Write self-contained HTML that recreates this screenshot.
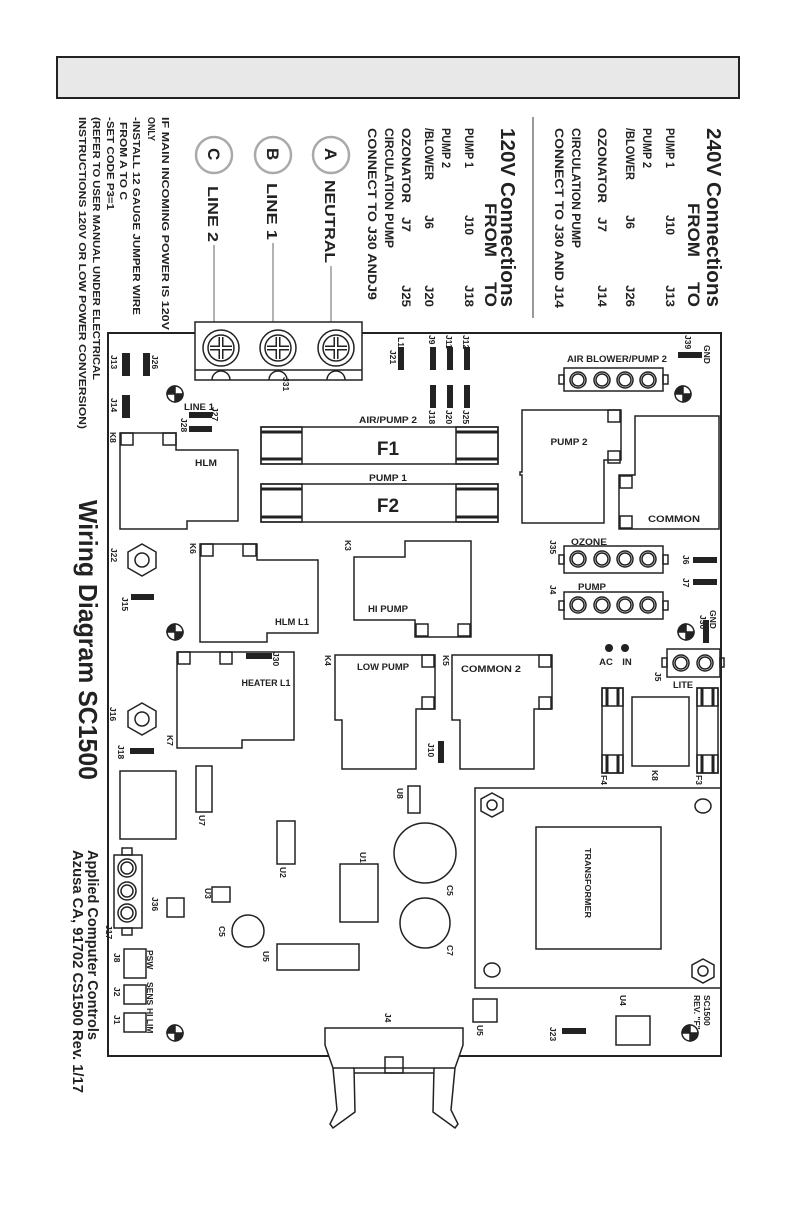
<!DOCTYPE html>
<html><head><meta charset="utf-8"><style>
html,body{margin:0;padding:0;background:#fff;}
svg{display:block;}
text{font-family:"Liberation Sans",sans-serif;font-weight:bold;fill:#222;}
</style></head><body>
<svg width="792" height="1224" viewBox="0 0 792 1224" xmlns="http://www.w3.org/2000/svg">
<rect width="792" height="1224" fill="#fff"/>
<rect x="57" y="57" width="682" height="41" fill="#e8e8e8" stroke="#222" stroke-width="2"/>

<g font-size="11.5">
<text transform="translate(707,128) rotate(90)" font-size="20" textLength="179" lengthAdjust="spacingAndGlyphs">240V Connections</text>
<text transform="translate(688,203) rotate(90)" font-size="17" textLength="54" lengthAdjust="spacingAndGlyphs">FROM</text>
<text transform="translate(688,282) rotate(90)" font-size="17" textLength="25" lengthAdjust="spacingAndGlyphs">TO</text>
<text transform="translate(666,128) rotate(90)" textLength="40" lengthAdjust="spacingAndGlyphs">PUMP 1</text>
<text transform="translate(666,215) rotate(90)" textLength="20" lengthAdjust="spacingAndGlyphs">J10</text>
<text transform="translate(666,285) rotate(90)" textLength="22" lengthAdjust="spacingAndGlyphs">J13</text>
<text transform="translate(643,128) rotate(90)" textLength="40" lengthAdjust="spacingAndGlyphs">PUMP 2</text>
<text transform="translate(626,128) rotate(90)" textLength="52" lengthAdjust="spacingAndGlyphs">/BLOWER</text>
<text transform="translate(626,215) rotate(90)" textLength="14" lengthAdjust="spacingAndGlyphs">J6</text>
<text transform="translate(626,285) rotate(90)" textLength="22" lengthAdjust="spacingAndGlyphs">J26</text>
<text transform="translate(598,128) rotate(90)" textLength="75" lengthAdjust="spacingAndGlyphs">OZONATOR</text>
<text transform="translate(598,217) rotate(90)" textLength="15" lengthAdjust="spacingAndGlyphs">J7</text>
<text transform="translate(598,285) rotate(90)" textLength="22" lengthAdjust="spacingAndGlyphs">J14</text>
<text transform="translate(572,128) rotate(90)" textLength="120" lengthAdjust="spacingAndGlyphs">CIRCULATION PUMP</text>
<text transform="translate(555,128) rotate(90)" textLength="180" lengthAdjust="spacingAndGlyphs">CONNECT TO J30 AND J14</text>
</g>
<line x1="533" y1="117" x2="533" y2="318" stroke="#999" stroke-width="2"/>
<g font-size="11.5">
<text transform="translate(501,128) rotate(90)" font-size="20" textLength="179" lengthAdjust="spacingAndGlyphs">120V Connections</text>
<text transform="translate(485,203) rotate(90)" font-size="17" textLength="54" lengthAdjust="spacingAndGlyphs">FROM</text>
<text transform="translate(485,282) rotate(90)" font-size="17" textLength="25" lengthAdjust="spacingAndGlyphs">TO</text>
<text transform="translate(465,128) rotate(90)" textLength="40" lengthAdjust="spacingAndGlyphs">PUMP 1</text>
<text transform="translate(465,215) rotate(90)" textLength="20" lengthAdjust="spacingAndGlyphs">J10</text>
<text transform="translate(465,285) rotate(90)" textLength="22" lengthAdjust="spacingAndGlyphs">J18</text>
<text transform="translate(442,128) rotate(90)" textLength="40" lengthAdjust="spacingAndGlyphs">PUMP 2</text>
<text transform="translate(425,128) rotate(90)" textLength="52" lengthAdjust="spacingAndGlyphs">/BLOWER</text>
<text transform="translate(425,215) rotate(90)" textLength="14" lengthAdjust="spacingAndGlyphs">J6</text>
<text transform="translate(425,285) rotate(90)" textLength="22" lengthAdjust="spacingAndGlyphs">J20</text>
<text transform="translate(402,128) rotate(90)" textLength="75" lengthAdjust="spacingAndGlyphs">OZONATOR</text>
<text transform="translate(402,217) rotate(90)" textLength="15" lengthAdjust="spacingAndGlyphs">J7</text>
<text transform="translate(402,285) rotate(90)" textLength="22" lengthAdjust="spacingAndGlyphs">J25</text>
<text transform="translate(385,128) rotate(90)" textLength="120" lengthAdjust="spacingAndGlyphs">CIRCULATION PUMP</text>
<text transform="translate(368,128) rotate(90)" textLength="172" lengthAdjust="spacingAndGlyphs">CONNECT TO J30 ANDJ9</text>
</g>
<g fill="none" stroke="#aaa" stroke-width="2.5">
<circle cx="331" cy="155" r="18"/><circle cx="273" cy="155" r="18"/><circle cx="214" cy="155" r="18"/>
</g>
<g font-size="17">
<text transform="translate(325,148) rotate(90)">A</text>
<text transform="translate(267,148) rotate(90)">B</text>
<text transform="translate(208,148) rotate(90)">C</text>
<text transform="translate(325,180) rotate(90)" font-size="15" textLength="83" lengthAdjust="spacingAndGlyphs">NEUTRAL</text>
<text transform="translate(267,183) rotate(90)" font-size="15" textLength="57" lengthAdjust="spacingAndGlyphs">LINE 1</text>
<text transform="translate(208,186) rotate(90)" font-size="15" textLength="56" lengthAdjust="spacingAndGlyphs">LINE 2</text>
</g>
<g stroke="#999" stroke-width="1.5">
<line x1="331" y1="266" x2="331" y2="323"/><line x1="273" y1="243" x2="273" y2="323"/><line x1="214" y1="245" x2="214" y2="323"/>
</g>
<g font-size="10.5">
<text transform="translate(162,117) rotate(90)" textLength="213" lengthAdjust="spacingAndGlyphs">IF MAIN INCOMING POWER IS 120V</text>
<text transform="translate(148,117) rotate(90)" textLength="24" lengthAdjust="spacingAndGlyphs">ONLY</text>
<text transform="translate(133,117) rotate(90)" textLength="198" lengthAdjust="spacingAndGlyphs">-INSTALL 12 GAUGE JUMPER WIRE</text>
<text transform="translate(120,122) rotate(90)" textLength="78" lengthAdjust="spacingAndGlyphs">FROM A TO C</text>
<text transform="translate(107,117) rotate(90)" textLength="93" lengthAdjust="spacingAndGlyphs">-SET CODE P3=1</text>
<text transform="translate(93,117) rotate(90)" textLength="263" lengthAdjust="spacingAndGlyphs">(REFER TO USER MANUAL UNDER ELECTRICAL</text>
<text transform="translate(79,117) rotate(90)" textLength="312" lengthAdjust="spacingAndGlyphs">INSTRUCTIONS 120V OR LOW POWER CONVERSION)</text>
</g>
<text transform="translate(79,500) rotate(90)" font-size="26" textLength="280" lengthAdjust="spacingAndGlyphs">Wiring Diagram SC1500</text>
<text transform="translate(88,850) rotate(90)" font-size="15" textLength="190" lengthAdjust="spacingAndGlyphs">Applied Computer Controls</text>
<text transform="translate(73,850) rotate(90)" font-size="15" textLength="243" lengthAdjust="spacingAndGlyphs">Azusa  CA, 91702 CS1500 Rev. 1/17</text>

<g fill="none" stroke="#222" stroke-width="1.5">
<rect x="108" y="333" width="613" height="723" stroke-width="2"/>
<rect x="195" y="322" width="167" height="58" fill="#fff"/>
<line x1="195" y1="370" x2="362" y2="370"/>
<circle cx="221" cy="348" r="18"/><circle cx="221" cy="348" r="13"/>
<circle cx="278" cy="348" r="18"/><circle cx="278" cy="348" r="13"/>
<circle cx="336" cy="348" r="18"/><circle cx="336" cy="348" r="13"/>
<path d="M221 337v22M210 348h22M278 337v22M267 348h22M336 337v22M325 348h22" stroke-width="5"/>
<path d="M221 337v22M210 348h22M278 337v22M267 348h22M336 337v22M325 348h22" stroke="#fff" stroke-width="2"/>
<path d="M212 380a9 9 0 0 1 18 0M269 380a9 9 0 0 1 18 0M327 380a9 9 0 0 1 18 0"/>
<rect x="261" y="427" width="237" height="37"/><rect x="261" y="427" width="41" height="37"/><rect x="456" y="427" width="42" height="37"/>
<rect x="261" y="484" width="237" height="38"/><rect x="261" y="484" width="41" height="38"/><rect x="456" y="484" width="42" height="38"/>
<path d="M120 433H176V450H238V521H187V529H120Z"/>
<rect x="121" y="433" width="12" height="12"/><rect x="163" y="433" width="13" height="12"/>
<rect x="564" y="368" width="99" height="23"/><rect x="559" y="375" width="5" height="9"/><rect x="663" y="375" width="5" height="9"/>
<rect x="564" y="546" width="99" height="27"/><rect x="559" y="555" width="5" height="9"/><rect x="663" y="555" width="5" height="9"/>
<rect x="564" y="592" width="99" height="27"/><rect x="559" y="601" width="5" height="9"/><rect x="663" y="601" width="5" height="9"/>
<g>
<circle cx="578" cy="380" r="8"/><circle cx="602" cy="380" r="8"/><circle cx="625" cy="380" r="8"/><circle cx="648" cy="380" r="8"/>
<circle cx="578" cy="559" r="8"/><circle cx="602" cy="559" r="8"/><circle cx="625" cy="559" r="8"/><circle cx="648" cy="559" r="8"/>
<circle cx="578" cy="605" r="8"/><circle cx="602" cy="605" r="8"/><circle cx="625" cy="605" r="8"/><circle cx="648" cy="605" r="8"/>
<circle cx="578" cy="380" r="6"/><circle cx="602" cy="380" r="6"/><circle cx="625" cy="380" r="6"/><circle cx="648" cy="380" r="6"/>
<circle cx="578" cy="559" r="6"/><circle cx="602" cy="559" r="6"/><circle cx="625" cy="559" r="6"/><circle cx="648" cy="559" r="6"/>
<circle cx="578" cy="605" r="6"/><circle cx="602" cy="605" r="6"/><circle cx="625" cy="605" r="6"/><circle cx="648" cy="605" r="6"/>
</g>
<path d="M522 410H621V460H604V523H522V475H520V472H522Z"/>
<rect x="608" y="410" width="12" height="12"/><rect x="608" y="451" width="12" height="12"/>
<path d="M635 416H719V529H619V475H635Z"/>
<rect x="620" y="476" width="12" height="12"/><rect x="620" y="516" width="12" height="12"/>
<rect x="667" y="649" width="53" height="28"/><rect x="662" y="658" width="5" height="9"/><rect x="720" y="658" width="4" height="9"/>
<circle cx="681" cy="663" r="8"/><circle cx="705" cy="663" r="8"/><circle cx="681" cy="663" r="6"/><circle cx="705" cy="663" r="6"/>
<path d="M200 544H257V560H318V633H267V642H200Z"/>
<rect x="201" y="544" width="12" height="12"/><rect x="243" y="544" width="13" height="12"/>
<path d="M405 541H471V637H415V620H354V557H405Z"/>
<rect x="416" y="624" width="12" height="12"/><rect x="458" y="624" width="12" height="12"/>
<path d="M142 544L156 552V568L142 576L128 568V552Z"/><circle cx="142" cy="560" r="7"/>
<path d="M142 703L156 711V727L142 735L128 727V711Z"/><circle cx="142" cy="719" r="7"/>
<path d="M177 652H294V740H242V748H177Z"/>
<rect x="178" y="652" width="12" height="12"/><rect x="220" y="652" width="12" height="12"/>
<path d="M335 655H435V709H416V769H342V720H335Z"/>
<rect x="422" y="655" width="12" height="12"/><rect x="422" y="697" width="12" height="12"/>
<path d="M452 655H552V709H534V769H460V720H452Z"/>
<rect x="539" y="655" width="12" height="12"/><rect x="539" y="697" width="12" height="12"/>
<rect x="602" y="688" width="21" height="85"/><rect x="602" y="688" width="21" height="18"/><rect x="602" y="755" width="21" height="18"/>
<rect x="697" y="688" width="21" height="85"/><rect x="697" y="688" width="21" height="18"/><rect x="697" y="755" width="21" height="18"/>
<rect x="632" y="697" width="57" height="69"/>
<rect x="475" y="788" width="246" height="200"/>
<rect x="536" y="827" width="125" height="122"/>
<path d="M492 793L503 799V811L492 817L481 811V799Z"/><circle cx="492" cy="805" r="5"/>
<path d="M703 959L714 965V977L703 983L692 977V965Z"/><circle cx="703" cy="971" r="5"/>
<ellipse cx="703" cy="806" rx="8" ry="7"/><ellipse cx="492" cy="970" rx="8" ry="7"/>
<rect x="120" y="771" width="56" height="68"/>
<rect x="196" y="766" width="16" height="46"/>
<rect x="408" y="786" width="12" height="27"/>
<rect x="277" y="821" width="18" height="43"/>
<ellipse cx="425" cy="853" rx="31" ry="30"/>
<circle cx="425" cy="923" r="25"/>
<rect x="340" y="864" width="38" height="58"/>
<rect x="212" y="887" width="18" height="15"/>
<rect x="167" y="898" width="17" height="19"/>
<rect x="114" y="855" width="28" height="73"/><rect x="122" y="848" width="10" height="7"/><rect x="122" y="928" width="10" height="7"/>
<circle cx="127" cy="868" r="9"/><circle cx="127" cy="891" r="9"/><circle cx="127" cy="913" r="9"/>
<circle cx="127" cy="868" r="6"/><circle cx="127" cy="891" r="6"/><circle cx="127" cy="913" r="6"/>
<circle cx="248" cy="931" r="16"/>
<rect x="277" y="944" width="82" height="26"/>
<rect x="124" y="949" width="22" height="29"/><rect x="124" y="985" width="22" height="19"/><rect x="124" y="1013" width="22" height="19"/>
<rect x="473" y="999" width="24" height="23"/>
<rect x="616" y="1016" width="34" height="29"/>
<path d="M325 1028H463V1045L455 1068L451 1110L458 1124L455 1128L433 1112L434 1068H354L355 1112L333 1128L330 1124L337 1110L333 1068L325 1045Z" fill="#fff"/>
<line x1="333" y1="1068" x2="354" y2="1068"/><line x1="434" y1="1068" x2="455" y2="1068"/>
<line x1="354" y1="1073" x2="434" y2="1073"/>
<rect x="385" y="1057" width="18" height="16"/>
</g>
<line x1="108" y1="1056" x2="327" y2="1056" stroke="#222" stroke-width="2"/>
<line x1="461" y1="1056" x2="721" y2="1056" stroke="#222" stroke-width="2"/>
<g stroke="#222" stroke-width="3">
<path d="M261 432h41M261 459h41M456 432h42M456 459h42M261 489h41M261 517h41M456 489h42M456 517h42"/>
<path d="M607 688v18M618 688v18M607 755v18M618 755v18M702 688v18M713 688v18M702 755v18M713 755v18"/>
</g>
<g fill="#222">
<rect x="122" y="353" width="8" height="23"/><rect x="143" y="353" width="7" height="23"/><rect x="122" y="395" width="8" height="23"/>
<rect x="189" y="412" width="23" height="6"/><rect x="189" y="426" width="23" height="6"/>
<rect x="398" y="347" width="6" height="23"/><rect x="430" y="347" width="6" height="23"/><rect x="447" y="347" width="6" height="23"/><rect x="464" y="347" width="6" height="23"/>
<rect x="430" y="385" width="6" height="23"/><rect x="447" y="385" width="6" height="23"/><rect x="464" y="385" width="6" height="23"/>
<rect x="678" y="352" width="24" height="6"/>
<rect x="693" y="557" width="24" height="6"/><rect x="693" y="579" width="24" height="6"/>
<rect x="703" y="620" width="6" height="23"/>
<rect x="131" y="594" width="23" height="6"/><rect x="246" y="653" width="26" height="6"/>
<rect x="130" y="748" width="24" height="6"/><rect x="438" y="741" width="6" height="22"/>
<rect x="562" y="1028" width="24" height="6"/>
<circle cx="609" cy="648" r="4"/><circle cx="625" cy="648" r="4"/>
</g>
<g stroke="#222" stroke-width="1.5">
<g transform="translate(175,394)"><circle r="8" fill="#fff"/><path d="M0 0H-8A8 8 0 0 1 0-8ZM0 0H8A8 8 0 0 1 0 8Z" fill="#222"/></g>
<g transform="translate(683,394)"><circle r="8" fill="#fff"/><path d="M0 0H-8A8 8 0 0 1 0-8ZM0 0H8A8 8 0 0 1 0 8Z" fill="#222"/></g>
<g transform="translate(175,632)"><circle r="8" fill="#fff"/><path d="M0 0H-8A8 8 0 0 1 0-8ZM0 0H8A8 8 0 0 1 0 8Z" fill="#222"/></g>
<g transform="translate(686,632)"><circle r="8" fill="#fff"/><path d="M0 0H-8A8 8 0 0 1 0-8ZM0 0H8A8 8 0 0 1 0 8Z" fill="#222"/></g>
<g transform="translate(175,1033)"><circle r="8" fill="#fff"/><path d="M0 0H-8A8 8 0 0 1 0-8ZM0 0H8A8 8 0 0 1 0 8Z" fill="#222"/></g>
<g transform="translate(690,1033)"><circle r="8" fill="#fff"/><path d="M0 0H-8A8 8 0 0 1 0-8ZM0 0H8A8 8 0 0 1 0 8Z" fill="#222"/></g>
</g>
<g font-size="9.5" text-anchor="middle">
<text x="617" y="362" textLength="100" lengthAdjust="spacingAndGlyphs">AIR BLOWER/PUMP 2</text>
<text x="388" y="423" textLength="58" lengthAdjust="spacingAndGlyphs">AIR/PUMP 2</text>
<text x="388" y="481" textLength="38" lengthAdjust="spacingAndGlyphs">PUMP 1</text>
<text x="388" y="455" font-size="19">F1</text>
<text x="388" y="512" font-size="19">F2</text>
<text x="199" y="410" textLength="30" lengthAdjust="spacingAndGlyphs">LINE 1</text>
<text x="206" y="466" textLength="22" lengthAdjust="spacingAndGlyphs">HLM</text>
<text x="569" y="445" textLength="37" lengthAdjust="spacingAndGlyphs">PUMP 2</text>
<text x="674" y="522" textLength="52" lengthAdjust="spacingAndGlyphs">COMMON</text>
<text x="589" y="545" textLength="36" lengthAdjust="spacingAndGlyphs">OZONE</text>
<text x="592" y="590" textLength="28" lengthAdjust="spacingAndGlyphs">PUMP</text>
<text x="292" y="625" textLength="34" lengthAdjust="spacingAndGlyphs">HLM L1</text>
<text x="388" y="612" textLength="40" lengthAdjust="spacingAndGlyphs">HI PUMP</text>
<text x="266" y="686" textLength="49" lengthAdjust="spacingAndGlyphs">HEATER L1</text>
<text x="383" y="670" textLength="52" lengthAdjust="spacingAndGlyphs">LOW PUMP</text>
<text x="491" y="672" textLength="60" lengthAdjust="spacingAndGlyphs">COMMON 2</text>
<text x="606" y="665">AC</text>
<text x="627" y="665">IN</text>
<text x="683" y="688" textLength="20" lengthAdjust="spacingAndGlyphs">LITE</text>
</g>
<g font-size="8.5">
<text transform="translate(704,345) rotate(90)">GND</text>
<text transform="translate(685,335) rotate(90)">J39</text>
<text transform="translate(710,610) rotate(90)">GND</text>
<text transform="translate(700,615) rotate(90)">J30</text>
<text transform="translate(111,355) rotate(90)">J13</text>
<text transform="translate(152,355) rotate(90)">J26</text>
<text transform="translate(111,398) rotate(90)">J14</text>
<text transform="translate(212,407) rotate(90)">J27</text>
<text transform="translate(181,418) rotate(90)">J28</text>
<text transform="translate(110,432) rotate(90)">K8</text>
<text transform="translate(283,377) rotate(90)">J31</text>
<text transform="translate(398,337) rotate(90)">L1</text>
<text transform="translate(390,350) rotate(90)">J21</text>
<text transform="translate(429,335) rotate(90)">J9</text>
<text transform="translate(446,335) rotate(90)">J11</text>
<text transform="translate(463,335) rotate(90)">J12</text>
<text transform="translate(429,410) rotate(90)">J18</text>
<text transform="translate(446,410) rotate(90)">J20</text>
<text transform="translate(463,410) rotate(90)">J25</text>
<text transform="translate(550,540) rotate(90)">J35</text>
<text transform="translate(550,585) rotate(90)">J4</text>
<text transform="translate(683,555) rotate(90)">J6</text>
<text transform="translate(683,578) rotate(90)">J7</text>
<text transform="translate(655,672) rotate(90)">J5</text>
<text transform="translate(190,543) rotate(90)">K6</text>
<text transform="translate(345,540) rotate(90)">K3</text>
<text transform="translate(111,548) rotate(90)">J22</text>
<text transform="translate(122,597) rotate(90)">J15</text>
<text transform="translate(273,652) rotate(90)">J30</text>
<text transform="translate(325,655) rotate(90)">K4</text>
<text transform="translate(443,655) rotate(90)">K5</text>
<text transform="translate(167,735) rotate(90)">K7</text>
<text transform="translate(110,707) rotate(90)">J16</text>
<text transform="translate(118,745) rotate(90)">J18</text>
<text transform="translate(428,743) rotate(90)">J10</text>
<text transform="translate(601,775) rotate(90)">F4</text>
<text transform="translate(652,770) rotate(90)">K8</text>
<text transform="translate(696,775) rotate(90)">F3</text>
<text transform="translate(199,815) rotate(90)">U7</text>
<text transform="translate(397,788) rotate(90)">U8</text>
<text transform="translate(280,867) rotate(90)">U2</text>
<text transform="translate(360,852) rotate(90)">U1</text>
<text transform="translate(447,885) rotate(90)">C5</text>
<text transform="translate(447,945) rotate(90)">C7</text>
<text transform="translate(205,888) rotate(90)">U3</text>
<text transform="translate(152,897) rotate(90)">J36</text>
<text transform="translate(106,925) rotate(90)">J17</text>
<text transform="translate(219,926) rotate(90)">C5</text>
<text transform="translate(263,951) rotate(90)">U5</text>
<text transform="translate(114,953) rotate(90)">J8</text>
<text transform="translate(114,987) rotate(90)">J2</text>
<text transform="translate(114,1015) rotate(90)">J1</text>
<text transform="translate(147,950) rotate(90)">PSW</text>
<text transform="translate(147,982) rotate(90)">SENS</text>
<text transform="translate(147,1008) rotate(90)">HI LIM</text>
<text transform="translate(585,848) rotate(90)" font-size="8" textLength="70" lengthAdjust="spacingAndGlyphs">TRANSFORMER</text>
<text transform="translate(477,1025) rotate(90)">U5</text>
<text transform="translate(620,995) rotate(90)">U4</text>
<text transform="translate(550,1027) rotate(90)">J23</text>
<text transform="translate(704,995) rotate(90)">SC1500</text>
<text transform="translate(694,995) rotate(90)">REV. "F"</text>
<text transform="translate(385,1013) rotate(90)">J4</text>
</g>
</svg>
</body></html>
